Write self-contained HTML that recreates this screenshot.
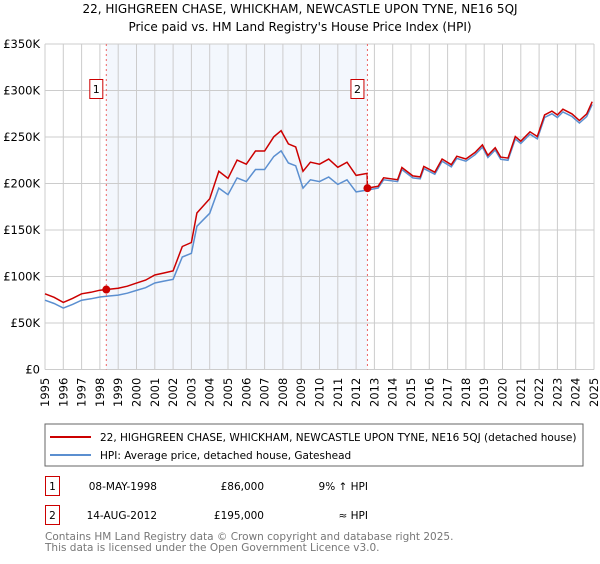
<!DOCTYPE html>
<html><head><meta charset="utf-8"><style>
body{margin:0;background:#fff;font-family:"DejaVu Sans","Liberation Sans",sans-serif;}
svg text{font-family:"DejaVu Sans","Liberation Sans",sans-serif;}
</style></head><body>
<svg id="c" width="600" height="560" xmlns="http://www.w3.org/2000/svg">
<text x="300" y="13" font-size="12" text-anchor="middle">22, HIGHGREEN CHASE, WHICKHAM, NEWCASTLE UPON TYNE, NE16 5QJ</text>
<text x="300" y="31" font-size="12" text-anchor="middle">Price paid vs. HM Land Registry's House Price Index (HPI)</text>
<g id="plot"></g>
<rect x="45" y="424" width="538" height="42" fill="#fff" stroke="#666"/>
<line x1="50" y1="437" x2="91" y2="437" stroke="#cc0000" stroke-width="2"/>
<text x="100" y="441" font-size="10.5">22, HIGHGREEN CHASE, WHICKHAM, NEWCASTLE UPON TYNE, NE16 5QJ (detached house)</text>
<line x1="50" y1="455" x2="91" y2="455" stroke="#5b8fd0" stroke-width="2"/>
<text x="100" y="459" font-size="10.5">HPI: Average price, detached house, Gateshead</text>
<g font-size="10.5">
<rect x="45.5" y="476.5" width="14" height="19" fill="#fff" stroke="#cc0000"/>
<text x="52.5" y="490" text-anchor="middle">1</text>
<text x="157" y="490" text-anchor="end">08-MAY-1998</text>
<text x="264" y="490" text-anchor="end">£86,000</text>
<text x="368" y="490" text-anchor="end">9% ↑ HPI</text>
<rect x="45.5" y="505.5" width="14" height="19" fill="#fff" stroke="#cc0000"/>
<text x="52.5" y="519" text-anchor="middle">2</text>
<text x="157" y="519" text-anchor="end">14-AUG-2012</text>
<text x="264" y="519" text-anchor="end">£195,000</text>
<text x="368" y="519" text-anchor="end">≈ HPI</text>
</g>
<text x="45" y="540" font-size="10.5" fill="#777">Contains HM Land Registry data © Crown copyright and database right 2025.</text>
<text x="45" y="551" font-size="10.5" fill="#777">This data is licensed under the Open Government Licence v3.0.</text>
</svg>
<script>
const hpiYears=[1995,1995.5,1996,1996.5,1997,1997.5,1998,1998.5,1999,1999.5,2000,2000.5,2001,2001.5,2002,2002.5,2003,2003.3,2003.6,2004,2004.5,2005,2005.5,2006,2006.5,2007,2007.5,2007.9,2008.3,2008.7,2009.1,2009.5,2010,2010.5,2011,2011.5,2012,2012.62,2013.2,2013.5,2014.27,2014.5,2015.1,2015.5,2015.7,2016.3,2016.7,2017.2,2017.5,2018,2018.5,2018.9,2019.2,2019.6,2019.9,2020.3,2020.7,2021,2021.5,2021.9,2022.3,2022.7,2023,2023.3,2023.8,2024.2,2024.6,2024.9];
const hpiValues=[74.5,71,66,70,74.5,76,78,79,80,82,85,88,93,95,97,121,125,154,160,168,195,188,206,202,215,215,229,235,222,219,195,204,202,207,199,204,191,193,195,204,202,215,206,205,216,210,224,218,227,224,231,239,228,236,226,225,248,243,253,248,271,275,271,277,272,265,272,285];
const sales=[{t:1998.35,v:86},{t:2012.62,v:195}];
const yTicks=[0,50,100,150,200,250,300,350];
const yLabels=["£0","£50K","£100K","£150K","£200K","£250K","£300K","£350K"];
const x0=45,x1=594,t0=1995,t1=2025,yb=369.5,pxPerK=46.5/50;
const X=t=>x0+(t-t0)/(t1-t0)*(x1-x0);
const Y=v=>yb-v*pxPerK;
const NS="http://www.w3.org/2000/svg";
const g=document.getElementById('plot');
function mk(tag,attrs){const e=document.createElementNS(NS,tag);for(const k in attrs)e.setAttribute(k,attrs[k]);g.appendChild(e);return e;}
function hpiAt(t){for(let i=0;i<hpiYears.length-1;i++){if(t>=hpiYears[i]&&t<=hpiYears[i+1]){const f=(t-hpiYears[i])/(hpiYears[i+1]-hpiYears[i]);return hpiValues[i]+f*(hpiValues[i+1]-hpiValues[i]);}}return hpiValues[hpiValues.length-1];}
// shaded region
let r=mk('rect',{x:X(sales[0].t),y:Y(350),width:X(sales[1].t)-X(sales[0].t),height:Y(0)-Y(350),fill:'#eef3fc',opacity:0.7});


// grid
for(let yr=t0;yr<=t1;yr++){
 let l=mk('line',{x1:X(yr),x2:X(yr),y1:Y(350),y2:Y(0),stroke:'#cccccc','stroke-width':1});
 
 
 let tx=mk('text',{x:0,y:0,'font-size':11.5,transform:`translate(${X(yr)+4},${407}) rotate(-90)`});
 tx.textContent=yr;
 
 
}
yTicks.forEach((v,i)=>{
 let l=mk('line',{x1:x0,x2:x1,y1:Y(v),y2:Y(v),stroke:'#cccccc','stroke-width':1});
 
 
 let tx=mk('text',{x:40,y:Y(v)+4,'font-size':11.5,'text-anchor':'end'});
 tx.textContent=yLabels[i];
 
 
});
// HPI line
let hp=hpiYears.map((t,i)=>X(t).toFixed(1)+','+Y(hpiValues[i]).toFixed(1)).join(' ');
let hl=mk('polyline',{points:hp,fill:'none',stroke:'#5b8fd0','stroke-width':1.5});


// property line
const r1=sales[0].v/hpiAt(sales[0].t), r2=sales[1].v/hpiAt(sales[1].t);
let pts=[];
hpiYears.forEach((t,i)=>{if(t<sales[1].t)pts.push([t,hpiValues[i]*r1]);});
pts.push([sales[1].t-0.02,hpiAt(sales[1].t)*r1]);
pts.push([sales[1].t,sales[1].v]);
hpiYears.forEach((t,i)=>{if(t>sales[1].t)pts.push([t,hpiValues[i]*r2]);});
let pl=mk('polyline',{points:pts.map(p=>X(p[0]).toFixed(1)+','+Y(p[1]).toFixed(1)).join(' '),fill:'none',stroke:'#cc0000','stroke-width':1.5});


// sale markers
sales.forEach((s,i)=>{
 let vl=mk('line',{x1:X(s.t),x2:X(s.t),y1:Y(350),y2:Y(0),stroke:'#ee6666','stroke-width':1,'stroke-dasharray':'2,3'});
 
 
 let c=mk('circle',{cx:X(s.t),cy:Y(s.v),r:4,fill:'#cc0000'});
 
 
 let b=mk('rect',{x:X(s.t)-16.5,y:79.5,width:13,height:19,fill:'#fff',stroke:'#cc0000'});
 
 
 let bt=mk('text',{x:X(s.t)-10,y:93,'font-size':11,'text-anchor':'middle'});
 bt.textContent=String(i+1);
 
 
});
</script>
</body></html>
